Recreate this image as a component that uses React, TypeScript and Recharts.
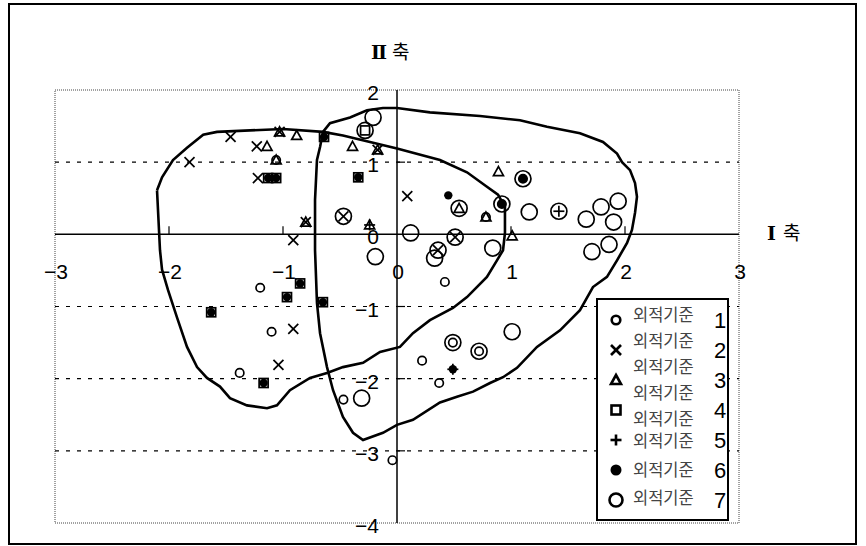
import React from 'react';
import { ScatterChart, Scatter, XAxis, YAxis, ReferenceLine, ReferenceArea } from 'recharts';

// ---------- data ----------
const seriesSmallCircle: [number, number][] = [
  [-1.06, 1.03], [-1.2, -0.74], [-1.1, -1.35], [-1.38, -1.92], [-0.47, -2.29], [0.42, -0.66],
  [0.22, -1.75], [0.37, -2.06], [-0.04, -3.13], [0.78, 0.24], [0.92, 0.42], [1.105, 0.77],
  [0.49, -1.5], [0.72, -1.62],
];
const seriesCross: [number, number][] = [
  [-1.82, 1.0], [-1.46, 1.35], [-1.03, 1.42], [-1.23, 1.22], [-1.22, 0.78], [-0.91, -0.08],
  [-0.8, 0.17], [-0.47, 0.25], [-0.17, 1.17], [0.09, 0.53], [0.51, -0.04], [0.36, -0.22],
  [-0.91, -1.31], [-1.04, -1.81],
];
const seriesTriangle: [number, number][] = [
  [-1.03, 1.42], [-0.88, 1.37], [-1.14, 1.22], [-1.06, 1.03], [-0.8, 0.17], [-0.39, 1.22],
  [-0.17, 1.17], [-0.24, 0.13], [0.545, 0.36], [0.89, 0.87], [0.78, 0.24], [1.01, -0.02],
];
const seriesSquare: [number, number][] = [
  [-1.13, 0.78], [-1.06, 0.78], [-0.64, 1.35], [-0.34, 0.79], [-0.28, 1.44], [-0.85, -0.68],
  [-0.965, -0.87], [-0.65, -0.94], [-1.63, -1.08], [-1.17, -2.06],
];
const seriesPlus: [number, number][] = [
  [-0.24, 0.13], [1.42, 0.32], [0.49, -1.87],
];
const seriesDot: [number, number][] = [
  [0.45, 0.54], [0.92, 0.42], [1.105, 0.77], [0.49, -1.87], [-1.13, 0.78], [-1.06, 0.78],
  [-0.64, 1.35], [-0.34, 0.79], [-0.85, -0.68], [-0.965, -0.87], [-0.65, -0.94], [-1.63, -1.08],
  [-1.17, -2.06],
];
const seriesBigCircle: [number, number][] = [
  [-0.21, 1.62], [-0.28, 1.44], [-0.47, 0.25], [-0.19, -0.31], [0.12, 0.02], [0.51, -0.04],
  [0.36, -0.22], [0.33, -0.33], [0.545, 0.36], [0.84, -0.19], [0.92, 0.42], [1.105, 0.77],
  [1.16, 0.31], [1.42, 0.32], [1.66, 0.21], [1.79, 0.38], [1.94, 0.46], [1.9, 0.17],
  [1.71, -0.24], [1.86, -0.14], [0.49, -1.5], [0.72, -1.62], [1.01, -1.35], [-0.31, -2.27],
];

const outlineLeft: [number, number][] = [
  [-2.105, 0.61], [-2.061, 0.79], [-1.965, 1.03], [-1.842, 1.2], [-1.7, 1.38], [-1.579, 1.42],
  [-1.289, 1.44], [-1.0, 1.46], [-0.649, 1.42], [-0.474, 1.37], [-0.237, 1.28], [0, 1.19],
  [0.377, 1.03], [0.614, 0.86], [0.789, 0.66], [0.886, 0.55], [0.947, 0.38], [0.947, 0.02],
  [0.93, -0.22], [0.877, -0.36], [0.789, -0.59], [0.614, -0.87], [0.491, -1.02], [0.289, -1.19],
  [0.14, -1.37], [0.026, -1.56], [-0.149, -1.63], [-0.298, -1.78], [-0.474, -1.84], [-0.614, -1.92],
  [-0.763, -1.99], [-0.939, -2.16], [-1.053, -2.37], [-1.14, -2.41], [-1.316, -2.37], [-1.465, -2.27],
  [-1.553, -2.11], [-1.667, -1.99], [-1.754, -1.84], [-1.842, -1.56], [-1.93, -1.15], [-2.009, -0.77],
  [-2.061, -0.49], [-2.079, -0.22], [-2.105, 0.61],
];
const outlineRight: [number, number][] = [
  [-0.649, 1.42], [-0.588, 1.54], [-0.412, 1.62], [-0.263, 1.72], [-0.123, 1.75], [0, 1.75],
  [0.289, 1.69], [0.728, 1.64], [1.079, 1.58], [1.316, 1.49], [1.605, 1.4], [1.807, 1.28],
  [1.93, 1.12], [1.974, 1.0], [2.044, 0.89], [2.088, 0.71], [2.105, 0.52], [2.088, 0.3],
  [2.061, 0.06], [2.018, -0.12], [1.93, -0.36], [1.842, -0.59], [1.719, -0.73], [1.605, -1.05],
  [1.43, -1.33], [1.228, -1.56], [1.053, -1.85], [0.93, -1.98], [0.816, -2.06], [0.667, -2.18],
  [0.526, -2.25], [0.377, -2.33], [0.14, -2.57], [0, -2.64], [-0.123, -2.75], [-0.298, -2.85],
  [-0.386, -2.75], [-0.474, -2.53], [-0.561, -2.16], [-0.614, -1.84], [-0.675, -1.37], [-0.702, -0.95],
  [-0.719, -0.22], [-0.719, 0.48], [-0.702, 1.03], [-0.675, 1.21], [-0.649, 1.42],
];

const xTickValues = [-3, -2, -1, 0, 1, 2, 3];
const yTickValues = [2, 1, 0, -1, -2, -3, -4];
const gridValues = [1, -1, -2, -3];
const legendLabel = '외적기준';
const legendNumbers = ['1', '2', '3', '4', '5', '6', '7'];
const axisTitleXNumeral = 'Ⅰ';
const axisTitleYNumeral = 'Ⅱ';
const axisTitleWord = '축';

// ---------- helpers ----------
const toPts = (arr: [number, number][]) => arr.map(([x, y]) => ({ x, y }));
const fmt = (v: number) => (v < 0 ? '−' + Math.abs(v) : String(v));
const NUM_FONT = '"Liberation Sans", Arial, sans-serif';
const KR_FONT = '"Noto Sans CJK KR", "Noto Sans", sans-serif';
const SERIF_FONT = '"DejaVu Serif", "Liberation Serif", serif';

type MType = 'small' | 'cross' | 'tri' | 'square' | 'plus' | 'dot' | 'big';

const drawMarker = (t: MType, cx: number, cy: number, bold = false) => {
  const sw = bold ? 2.6 : 1.7;
  switch (t) {
    case 'small':
      return <circle cx={cx} cy={cy} r={bold ? 4.3 : 4.2} fill="none" stroke="#000" strokeWidth={sw} />;
    case 'cross':
      return (
        <g stroke="#000" strokeWidth={sw}>
          <line x1={cx - 5} y1={cy - 5} x2={cx + 5} y2={cy + 5} />
          <line x1={cx - 5} y1={cy + 5} x2={cx + 5} y2={cy - 5} />
        </g>
      );
    case 'tri':
      return (
        <path d={`M${cx},${cy - 5} L${cx + 5},${cy + 4} L${cx - 5},${cy + 4} Z`} fill="none" stroke="#000" strokeWidth={sw} strokeLinejoin="miter" />
      );
    case 'square':
      return <rect x={cx - 4.5} y={cy - 4.5} width={9} height={9} fill="none" stroke="#000" strokeWidth={sw} />;
    case 'plus':
      return (
        <g stroke="#000" strokeWidth={sw}>
          <line x1={cx - 5.5} y1={cy} x2={cx + 5.5} y2={cy} />
          <line x1={cx} y1={cy - 5.5} x2={cx} y2={cy + 5.5} />
        </g>
      );
    case 'dot':
      return <circle cx={cx} cy={cy} r={bold ? 5.5 : 4.2} fill="#000" />;
    case 'big':
      return <circle cx={cx} cy={cy} r={bold ? 6.5 : 8} fill="none" stroke="#000" strokeWidth={sw} />;
  }
  return <g />;
};

const shapeFor = (t: MType) => (p: any) => drawMarker(t, p.cx, p.cy);

const Empty = () => <g />;

const XTickShape = (p: any) => {
  const v = p.payload.x as number;
  return (
    <g>
      {v !== 0 && Math.abs(v) !== 3 && <line x1={p.cx} y1={p.cy - 8} x2={p.cx} y2={p.cy} stroke="#000" strokeWidth={1.2} />}
      <text x={p.cx + 1} y={p.cy + 45} textAnchor="middle" fontFamily={NUM_FONT} fontSize={21} fill="#000">
        {fmt(v)}
      </text>
    </g>
  );
};

const YTickShape = (p: any) => {
  const v = p.payload.y as number;
  return (
    <g>
      {v !== 0 && v !== 2 && v !== -4 && <line x1={p.cx} y1={p.cy} x2={p.cx + 8} y2={p.cy} stroke="#000" strokeWidth={1.2} />}
      <text x={p.cx - 18} y={p.cy + 10} textAnchor="end" fontFamily={NUM_FONT} fontSize={21} fill="#000">
        {fmt(v)}
      </text>
    </g>
  );
};

const legendTypes: MType[] = ['small', 'cross', 'tri', 'square', 'plus', 'dot', 'big'];
const legendMarkerY = [22, 52, 82, 112, 142, 172, 202];
const legendTextY = [17, 43, 69, 95, 121, 143, 172, 200];

const Legend = () => (
  <svg width={134} height={224} style={{ position: 'absolute', left: 596, top: 298 }}>
    <rect x={1} y={1} width={131} height={221} fill="#fff" stroke="#000" strokeWidth={2} />
    {legendTypes.map((t, i) => (
      <g key={t}>
        {drawMarker(t, 20, legendMarkerY[i], true)}
        <text x={124} y={legendMarkerY[i] + 8} textAnchor="middle" fontFamily={NUM_FONT} fontSize={22} fill="#000">
          {legendNumbers[i]}
        </text>
      </g>
    ))}
    {legendTextY.map((y, i) => (
      <text key={i} x={37} y={y + 6} fontFamily={KR_FONT} fontSize={16.5} fill="#444">
        {legendLabel}
      </text>
    ))}
  </svg>
);

export default function App() {
  return (
    <div style={{ position: 'absolute', left: 0, top: 0, width: 866, height: 546, background: '#fff' }}>
      <div
        style={{
          position: 'absolute', left: 8, top: 3, width: 849, height: 542,
          border: '2px solid #000', boxSizing: 'border-box',
        }}
      />
      <div style={{ position: 'absolute', left: 0, top: 0 }}>
        <ScatterChart width={866} height={546} margin={{ top: 90, right: 127, bottom: 23, left: 55 }} style={{ overflow: 'visible' }}>
          <XAxis type="number" dataKey="x" domain={[-3, 3]} hide />
          <YAxis type="number" dataKey="y" domain={[-4, 2]} hide />
          <ReferenceArea x1={-3} x2={3} y1={-4} y2={2} fill="none" stroke="#444" strokeWidth={1} strokeDasharray="1 1" ifOverflow="visible" />
          {gridValues.map((g) => (
            <ReferenceLine key={g} y={g} stroke="#000" strokeWidth={1.2} strokeDasharray="4 7" />
          ))}
          <ReferenceLine x={0} stroke="#000" strokeWidth={1.5} />
          <ReferenceLine y={0} stroke="#000" strokeWidth={1.5} />
          <Scatter data={toPts(outlineLeft)} shape={<Empty />} line={{ stroke: '#000', strokeWidth: 2.6 }} lineType="joint" isAnimationActive={false} />
          <Scatter data={toPts(outlineRight)} shape={<Empty />} line={{ stroke: '#000', strokeWidth: 2.6 }} lineType="joint" isAnimationActive={false} />
          <Scatter data={toPts(seriesBigCircle)} shape={shapeFor('big')} isAnimationActive={false} />
          <Scatter data={toPts(seriesSquare)} shape={shapeFor('square')} isAnimationActive={false} />
          <Scatter data={toPts(seriesDot)} shape={shapeFor('dot')} isAnimationActive={false} />
          <Scatter data={toPts(seriesSmallCircle)} shape={shapeFor('small')} isAnimationActive={false} />
          <Scatter data={toPts(seriesTriangle)} shape={shapeFor('tri')} isAnimationActive={false} />
          <Scatter data={toPts(seriesCross)} shape={shapeFor('cross')} isAnimationActive={false} />
          <Scatter data={toPts(seriesPlus)} shape={shapeFor('plus')} isAnimationActive={false} />
          <Scatter data={xTickValues.map((x) => ({ x, y: 0 }))} shape={XTickShape} isAnimationActive={false} />
          <Scatter data={yTickValues.map((y) => ({ x: 0, y }))} shape={YTickShape} isAnimationActive={false} />
        </ScatterChart>
      </div>
      <div style={{ position: 'absolute', left: 371, top: 37, fontSize: 19, color: '#000', whiteSpace: 'nowrap' }}>
        <span style={{ fontFamily: SERIF_FONT, fontWeight: 'bold' }}>{axisTitleYNumeral}</span>
        <span style={{ fontFamily: KR_FONT, marginLeft: 5 }}>{axisTitleWord}</span>
      </div>
      <div style={{ position: 'absolute', left: 767, top: 218, fontSize: 19, color: '#000', whiteSpace: 'nowrap' }}>
        <span style={{ fontFamily: SERIF_FONT, fontWeight: 'bold' }}>{axisTitleXNumeral}</span>
        <span style={{ fontFamily: KR_FONT, marginLeft: 7 }}>{axisTitleWord}</span>
      </div>
      <Legend />
    </div>
  );
}
